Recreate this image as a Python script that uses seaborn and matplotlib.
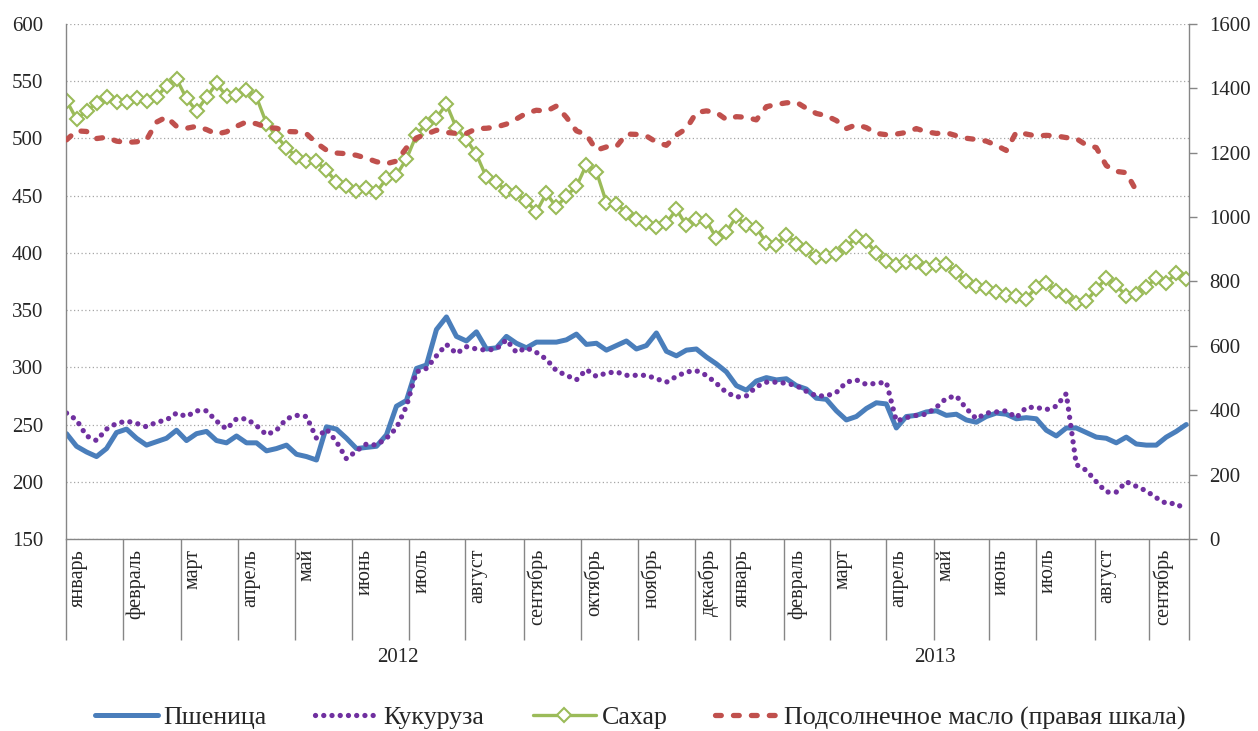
import numpy as np
import pandas as pd
import matplotlib
matplotlib.use('Agg')
import matplotlib.pyplot as plt
import matplotlib.transforms as mtransforms
import seaborn as sns

# month groups on the category axis (2012 Jan .. 2013 Sep)
months = ['январь', 'февраль', 'март', 'апрель', 'май', 'июнь', 'июль',
          'август', 'сентябрь', 'октябрь', 'ноябрь', 'декабрь',
          'январь', 'февраль', 'март', 'апрель', 'май', 'июнь', 'июль',
          'август', 'сентябрь']
years = ['2012', '2013']
year_pos = [33.1, 86.9]
# category positions where each month group starts (last = end of axis)
month_bounds = [-0.1, 5.63, 11.4, 17.13, 22.83, 28.57, 34.3, 39.9, 45.73,
                51.43, 57.17, 62.9, 66.33, 71.8, 76.4, 82.0, 86.73, 92.23,
                96.97, 102.83, 108.3, 112.23]

wheat = [242, 231, 226, 222, 229, 243, 246, 238, 232, 235,
         238, 245, 236, 242, 244, 236, 234, 240, 234, 234,
         227, 229, 232, 224, 222, 219, 248, 246, 238, 229,
         230, 231, 241, 266, 271, 299, 302, 333, 344, 327,
         323, 331, 316, 317, 327, 321, 317, 322, 322, 322,
         324, 329, 320, 321, 315, 319, 323, 316, 319, 330,
         314, 310, 315, 316, 309, 303, 296, 284, 280, 288,
         291, 289, 290, 284, 281, 273, 272, 262, 254, 257,
         264, 269, 268, 247, 257, 258, 261, 262, 258, 259,
         254, 252, 257, 260, 259, 255, 256, 255, 245, 240,
         247, 247, 243, 239, 238, 234, 239, 233, 232, 232,
         239, 244, 250]

corn = [260, 254, 240, 236, 246, 251, 253, 251, 248, 252,
        254, 260, 257, 262, 262, 253, 246, 255, 255, 249,
        241, 245, 255, 258, 257, 238, 246, 235, 220, 227,
        233, 232, 238, 247, 266, 296, 299, 310, 320, 312,
        318, 316, 315, 316, 324, 313, 317, 313, 307, 297,
        293, 289, 298, 292, 295, 296, 293, 293, 293, 290,
        287, 292, 296, 297, 293, 286, 278, 274, 275, 283,
        287, 287, 286, 284, 279, 275, 275, 278, 287, 289,
        285, 286, 287, 253, 256, 258, 259, 265, 273, 275,
        264, 255, 260, 261, 262, 256, 265, 265, 263, 266,
        277, 215, 210, 200, 191, 191, 200, 196, 192, 186,
        181, 181, 175]

sugar = [533, 517, 524, 531, 536, 532, 532, 535, 533, 536,
         546, 552, 535, 524, 536, 548, 537, 538, 542, 536,
         513, 502, 492, 484, 480, 480, 472, 462, 458, 454,
         457, 453, 465, 468, 482, 503, 513, 518, 530, 509,
         499, 486, 466, 462, 454, 452, 445, 436, 452, 440,
         450, 458, 477, 471, 444, 443, 435, 430, 426, 423,
         426, 438, 424, 430, 428, 413, 418, 432, 424, 422,
         409, 407, 416, 408, 403, 396, 397, 399, 405, 414,
         410, 400, 393, 389, 392, 392, 387, 389, 390, 383,
         375, 371, 369, 366, 363, 362, 360, 370, 374, 367,
         362, 356, 358, 368, 378, 372, 362, 364, 370, 378,
         374, 382, 377]

sunflower = [1240, 1268, 1266, 1244, 1248, 1236, 1232, 1234, 1240, 1295,
             1311, 1282, 1276, 1282, 1272, 1258, 1265, 1282, 1296, 1290,
             1279, 1276, 1266, 1265, 1259, 1230, 1208, 1199, 1197, 1192,
             1183, 1172, 1166, 1174, 1215, 1246, 1258, 1270, 1263, 1260,
             1260, 1275, 1276, 1280, 1289, 1305, 1323, 1332, 1329, 1345,
             1310, 1268, 1256, 1208, 1218, 1219, 1258, 1257, 1252, 1233,
             1223, 1255, 1275, 1325, 1330, 1325, 1303, 1312, 1310, 1302,
             1343, 1350, 1355, 1357, 1338, 1322, 1315, 1300, 1275, 1287,
             1278, 1260, 1256, 1258, 1263, 1275, 1265, 1260, 1262, 1253,
             1245, 1241, 1236, 1223, 1207, 1264, 1258, 1252, 1254, 1252,
             1247, 1244, 1224, 1216, 1160, 1142, 1138, 1082, np.nan, np.nan,
             np.nan, np.nan, np.nan]

BLUE = '#4A7EBB'
PURPLE = '#7030A0'
GREEN = '#9BBB59'
RED = '#C0504D'
GRAY = '#868686'

sns.set_style('white')
plt.rcParams['font.family'] = ['Liberation Serif', 'DejaVu Serif']

df = pd.DataFrame({'idx': np.arange(len(wheat)), 'wheat': wheat, 'corn': corn,
                   'sugar': sugar, 'oil': sunflower})

fig = plt.figure(figsize=(12.58, 7.31), dpi=100)
ax = fig.add_axes([0.0521, 0.2627, 0.8927, 0.7045])
ax2 = ax.twinx()

sns.lineplot(data=df, x='idx', y='wheat', ax=ax, color=BLUE, linewidth=3.6,
             estimator=None, errorbar=None, label='Пшеница',
             solid_capstyle='round', solid_joinstyle='round')
sns.lineplot(data=df, x='idx', y='corn', ax=ax, color=PURPLE, linewidth=3.8,
             estimator=None, errorbar=None, label='Кукуруза',
             linestyle=(0, (0.01, 1.55)), dash_capstyle='round')
sns.lineplot(data=df, x='idx', y='sugar', ax=ax, color=GREEN, linewidth=2.4,
             estimator=None, errorbar=None, label='Сахар',
             marker='D', markersize=7, markerfacecolor='white',
             markeredgecolor=GREEN, markeredgewidth=1.5)
sns.lineplot(data=df, x='idx', y='oil', ax=ax2, color=RED, linewidth=3.8,
             estimator=None, errorbar=None, label='Подсолнечное масло (правая шкала)',
             linestyle=(0, (1.1, 2.3)), dash_capstyle='round')

h1, l1 = ax.get_legend_handles_labels()
h2, l2 = ax2.get_legend_handles_labels()
for a in (ax, ax2):
    if a.get_legend() is not None:
        a.get_legend().remove()
    a.set_xlabel('')
    a.set_ylabel('')

# axes, ticks, grid
ax.set_xlim(month_bounds[0], month_bounds[-1])
ax.set_ylim(150, 600)
ax.set_yticks(range(150, 601, 50))
ax2.set_ylim(0, 1600)
ax2.set_yticks(range(0, 1601, 200))

ax.set_xticks(month_bounds)
ax.set_xticklabels([])
ax.tick_params(axis='x', bottom=True, length=72.7, width=1, color=GRAY,
               direction='out')
ax.tick_params(axis='y', left=False, length=0, pad=16, labelsize=15)
ax2.tick_params(axis='y', right=True, length=6, width=1, color=GRAY,
                direction='out', pad=9, labelsize=15)

ax.set_axisbelow(True)
ax.yaxis.grid(True, linestyle=(0, (1, 2)), color='#A6A6A6', linewidth=0.9)
ax.xaxis.grid(False)
ax2.grid(False)

for s in ('top', 'right'):
    ax.spines[s].set_visible(False)
for s in ('left', 'bottom'):
    ax.spines[s].set_color(GRAY)
    ax.spines[s].set_linewidth(1)
for s in ('top', 'left', 'bottom'):
    ax2.spines[s].set_visible(False)
ax2.spines['right'].set_color(GRAY)
ax2.spines['right'].set_linewidth(1)

# month and year labels below the axis
trans = mtransforms.blended_transform_factory(ax.transData, ax.transAxes)
for b, m in zip(month_bounds[:-1], months):
    ax.text(b + 0.3, -0.019, m, rotation=90, ha='left', va='top',
            transform=trans, fontsize=14.5)
for p, yr in zip(year_pos, years):
    ax.text(p, -0.231, yr, ha='center', va='center', transform=trans,
            fontsize=15)

fig.legend(h1 + h2, l1 + l2, loc='center', bbox_to_anchor=(0.509, 0.018),
           ncol=4, frameon=False, fontsize=18.7, handlelength=2.45,
           handletextpad=0.2, columnspacing=1.85)

fig.savefig('out.png', dpi=100)
